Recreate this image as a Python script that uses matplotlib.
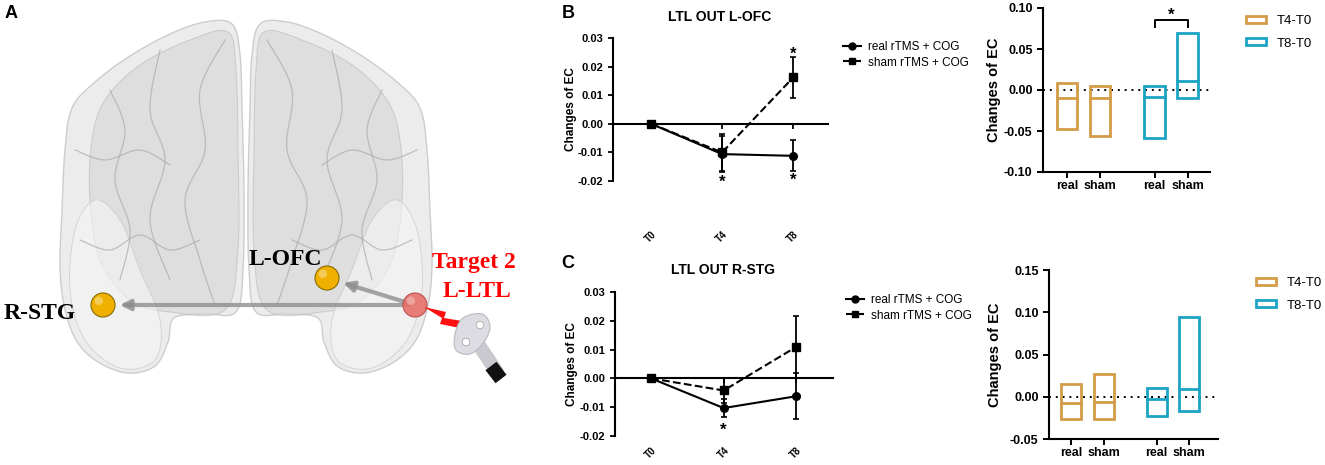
"""Figure: LTL outflow EC changes (panels A-C)."""

import numpy as np
import matplotlib
matplotlib.use("Agg")
import matplotlib.pyplot as plt
from matplotlib.lines import Line2D
from matplotlib.patches import Patch, Polygon, Circle, FancyArrowPatch
from matplotlib.transforms import offset_copy

# --- data ---
TIMEPOINTS = ["T0", "T4", "T8"]
GROUPS = ["real rTMS + COG", "sham rTMS + COG"]

# panel B, LTL OUT L-OFC (mean, sem)
B_REAL = [0.0, -0.0106, -0.0112]
B_REAL_ERR = [0.0, 0.0062, 0.0054]
B_SHAM = [0.0, -0.0100, 0.0162]
B_SHAM_ERR = [0.0, 0.0064, 0.0072]

# panel C, LTL OUT R-STG
C_REAL = [0.0, -0.0103, -0.0062]
C_REAL_ERR = [0.0, 0.0030, 0.0080]
C_SHAM = [0.0, -0.0042, 0.0109]
C_SHAM_ERR = [0.0, 0.0043, 0.0106]

# floating bars: (min, max, mean) for real/sham at T4-T0 then T8-T0
BAR_LABELS = ["real", "sham", "real", "sham"]
PERIODS = ["T4-T0", "T8-T0"]
B_BAR_MIN = [-0.047, -0.056, -0.058, -0.010]
B_BAR_MAX = [0.008, 0.005, 0.005, 0.069]
B_BAR_MEAN = [-0.010, -0.010, -0.008, 0.011]
C_BAR_MIN = [-0.0268, -0.0268, -0.0224, -0.0169]
C_BAR_MAX = [0.0146, 0.0268, 0.0098, 0.0945]
C_BAR_MEAN = [-0.0075, -0.0067, -0.0031, 0.0090]

# --- style ---
W, H = 1325, 465
ORANGE = "#D39C48"
TEAL = "#1BA3C4"
SANS = "Liberation Sans"
SERIF = "Liberation Serif"
BAR_POS = [0.0, 1.0, 2.65, 3.65]

plt.rcParams["font.family"] = SANS
plt.rcParams["axes.linewidth"] = 1.5


def px_axes(fig, left, top, right, bottom):
    return fig.add_axes([left / W, 1 - bottom / H, (right - left) / W, (bottom - top) / H])


def catmull(P, idx, n):
    out = []
    for i in idx:
        p0, p1, p2, p3 = P[i - 1], P[i], P[i + 1], P[i + 2]
        for t in np.linspace(0, 1, n, endpoint=False):
            out.append(0.5 * (2 * p1 + (-p0 + p2) * t
                              + (2 * p0 - 5 * p1 + 4 * p2 - p3) * t ** 2
                              + (-p0 + 3 * p1 - 3 * p2 + p3) * t ** 3))
    return out


def smooth_closed(pts, n=14):
    pts = np.asarray(pts, dtype=float)
    P = np.vstack([pts[-1], pts, pts[0], pts[1]])
    return np.array(catmull(P, range(1, len(pts) + 1), n))


def smooth_open(pts, n=14):
    pts = np.asarray(pts, dtype=float)
    P = np.vstack([pts[0], pts, pts[-1]])
    out = catmull(P, range(1, len(pts)), n)
    out.append(pts[-1])
    return np.array(out)


def mirror(pts, axis_x=492):
    return [(axis_x - x, y) for x, y in pts]


LEFT_HEMI = [(232, 24), (205, 22), (170, 34), (130, 56), (95, 82), (72, 108),
             (65, 150), (62, 210), (60, 265), (64, 305), (76, 340), (98, 362),
             (128, 373), (155, 366), (168, 342), (174, 318), (205, 314),
             (236, 312), (243, 270), (244, 190), (242, 110), (240, 55)]
LEFT_FRONTAL = [(228, 32), (190, 40), (140, 65), (105, 100), (92, 140),
                (90, 200), (100, 260), (130, 300), (170, 312), (225, 310),
                (238, 250), (238, 150), (236, 70)]
LEFT_TEMPORAL = [(95, 200), (75, 230), (70, 290), (85, 340), (120, 368),
                 (155, 360), (160, 320), (140, 270), (120, 220)]
LEFT_FOLDS = [
    [(225, 40), (200, 90), (205, 150), (185, 200), (200, 260), (215, 305)],
    [(160, 50), (150, 110), (165, 160), (150, 220), (170, 280)],
    [(110, 90), (125, 130), (115, 180), (130, 230), (120, 280)],
    [(75, 150), (105, 160), (140, 150), (170, 165)],
    [(80, 240), (110, 250), (140, 235), (170, 250), (200, 240)],
]


def draw_brain(ax):
    for side in (lambda p: p, mirror):
        shape = smooth_closed(side(LEFT_HEMI))
        ax.add_patch(Polygon(shape, closed=True, facecolor="#ececec",
                             edgecolor="#cdcdcd", lw=1.0, zorder=1))
        front = smooth_closed(side(LEFT_FRONTAL))
        ax.add_patch(Polygon(front, closed=True, facecolor="#d2d2d2",
                             edgecolor="#b4b4b4", lw=0.8, alpha=0.5, zorder=2))
        temp = smooth_closed(side(LEFT_TEMPORAL))
        ax.add_patch(Polygon(temp, closed=True, facecolor="#f6f6f6",
                             edgecolor="#c4c4c4", lw=0.7, alpha=0.6, zorder=2))
        for fold in LEFT_FOLDS:
            c = smooth_open(side(fold))
            ax.plot(c[:, 0], c[:, 1], color="#ababab", lw=0.9, alpha=0.7, zorder=3)


def sphere(ax, x, y, r, color, edge, alpha=1.0):
    ax.add_patch(Circle((x, y), r, facecolor=color, edgecolor=edge, lw=0.8,
                        alpha=alpha, zorder=8))
    ax.add_patch(Circle((x - r * 0.35, y - r * 0.35), r * 0.35, facecolor="white",
                        edgecolor="none", alpha=0.35 * alpha, zorder=9))


def panel_a(fig):
    ax = px_axes(fig, 0, 0, 520, 465)
    ax.set_xlim(0, 520)
    ax.set_ylim(465, 0)
    ax.axis("off")
    draw_brain(ax)

    target = (415, 305)
    stg = (103, 305)
    ofc = (327, 278)
    for dest in (stg, ofc):
        ax.add_patch(FancyArrowPatch(target, dest, arrowstyle="-|>,head_length=6,head_width=3",
                                     color="#8f8f8f", lw=3.0, alpha=0.8,
                                     shrinkA=4, shrinkB=12, zorder=6))
    sphere(ax, *stg, 12, "#F0B000", "#8a6a00")
    sphere(ax, *ofc, 12, "#F0B000", "#8a6a00")
    sphere(ax, *target, 12, "#E8716B", "#b54a44", alpha=0.9)

    bolt = [(424, 307), (446, 312), (444, 318), (474, 323), (463, 339),
            (460, 328), (440, 324), (442, 318)]
    ax.add_patch(Polygon(bolt, closed=True, facecolor="#ff1010", edgecolor="none", zorder=10))

    # coil
    ax.plot([474, 497], [338, 372], color="#c9c9cf", lw=10, solid_capstyle="round", zorder=9)
    ax.plot([491, 501], [366, 379], color="#111111", lw=10, solid_capstyle="butt", zorder=10)
    head = smooth_closed([(463, 318), (482, 314), (490, 326), (484, 342), (470, 354),
                          (456, 350), (455, 334)])
    ax.add_patch(Polygon(head, closed=True, facecolor="#dcdce2", edgecolor="#b9b9c0",
                         lw=0.8, zorder=10))
    ax.add_patch(Circle((480, 325), 3.8, facecolor="white", edgecolor="#aaa", lw=0.6, zorder=11))
    ax.add_patch(Circle((466, 342), 3.8, facecolor="white", edgecolor="#aaa", lw=0.6, zorder=11))

    ax.text(4, 313, "R-STG", family=SERIF, weight="bold", fontsize=17,
            ha="left", va="center", zorder=12)
    ax.text(285, 259, "L-OFC", family=SERIF, weight="bold", fontsize=17,
            ha="center", va="center", zorder=12)
    ax.text(432, 262, "Target 2", family=SERIF, weight="bold", fontsize=17,
            color="#ff0000", ha="left", va="center", zorder=12)
    ax.text(477, 291, "L-LTL", family=SERIF, weight="bold", fontsize=17,
            color="#ff0000", ha="center", va="center", zorder=12)
    fig.text(5 / W, 1 - 13 / H, "A", fontsize=13, weight="bold", va="center")


def line_panel(fig, rect, real, real_err, sham, sham_err, xlim, label_y,
               stars, title, title_xy, letter_xy, legend_xy, ylabel_x):
    ax = px_axes(fig, *rect)
    x = np.arange(len(TIMEPOINTS))
    ax.errorbar(x, real, yerr=real_err, color="black", lw=1.5, marker="o",
                markersize=5.5, capsize=2, elinewidth=1.3, capthick=1.2, zorder=4)
    ax.errorbar(x, sham, yerr=sham_err, color="black", lw=1.5, ls="--", marker="s",
                markersize=5.5, capsize=2, elinewidth=1.3, capthick=1.2, zorder=4)
    ax.set_xlim(*xlim)
    ax.set_ylim(-0.02, 0.03)
    ax.set_yticks([-0.02, -0.01, 0.0, 0.01, 0.02, 0.03])
    ax.set_yticklabels([f"{v:.2f}" for v in ax.get_yticks()])
    for s in ("top", "right"):
        ax.spines[s].set_visible(False)
    ax.spines["bottom"].set_position(("data", 0))
    ax.spines["bottom"].set_bounds(xlim[0], xlim[1])
    ax.set_xticks(x)
    ax.set_xticklabels([])
    ax.tick_params(axis="both", direction="out", length=3.5, width=1.3, labelsize=8)
    for lab in ax.get_yticklabels():
        lab.set_fontweight("bold")
    for i, t in enumerate(TIMEPOINTS):
        ax.text(i, label_y, t, rotation=45, ha="center", va="center", fontsize=7,
                weight="bold", clip_on=False)
    star_tr = offset_copy(ax.transData, fig=fig, y=-3, units="dots")
    for sx, sy in stars:
        ax.text(sx, sy, "*", ha="center", va="center", fontsize=12, weight="bold",
                transform=star_tr)
    ax.set_ylabel("Changes of EC", fontsize=8.5, weight="bold")
    ax.yaxis.set_label_coords(ylabel_x, 0.5)

    fig.text(title_xy[0] / W, 1 - title_xy[1] / H, title, fontsize=10, weight="bold",
             ha="center", va="center")
    fig.text(letter_xy[0] / W, 1 - letter_xy[1] / H, letter_xy[2], fontsize=13,
             weight="bold", ha="center", va="center")
    handles = [Line2D([], [], color="black", lw=1.5, marker="o", markersize=5),
               Line2D([], [], color="black", lw=1.5, ls="--", marker="s", markersize=5)]
    ax.legend(handles, GROUPS, loc="upper left", frameon=False, fontsize=8.5,
              bbox_to_anchor=(legend_xy[0] / W, 1 - legend_xy[1] / H),
              bbox_transform=fig.transFigure, borderpad=0, borderaxespad=0,
              handlelength=1.5, handletextpad=0.6, labelspacing=0.3)
    return ax


def bar_panel(fig, rect, lo, hi, mean, ylim, yticks, xlim, ylabel_x, legend_xy):
    ax = px_axes(fig, *rect)
    colors = [ORANGE, ORANGE, TEAL, TEAL]
    width = 0.62
    heights = [h - l for h, l in zip(hi, lo)]
    ax.bar(BAR_POS, heights, bottom=lo, width=width, fill=False,
           edgecolor=colors, lw=2.0, zorder=3)
    for p, m, c in zip(BAR_POS, mean, colors):
        ax.plot([p - width / 2, p + width / 2], [m, m], color=c, lw=2.0, zorder=3)
    ax.axhline(0, color="black", ls=(0, (1, 2.5)), lw=1.4, zorder=2)
    ax.set_xlim(*xlim)
    ax.set_ylim(*ylim)
    ax.set_yticks(yticks)
    ax.set_yticklabels([f"{v:.2f}" for v in yticks])
    ax.set_xticks(BAR_POS)
    ax.set_xticklabels(BAR_LABELS)
    for s in ("top", "right"):
        ax.spines[s].set_visible(False)
    ax.tick_params(axis="both", direction="out", length=4, width=1.4, labelsize=9)
    ax.tick_params(axis="x", pad=2)
    for lab in ax.get_yticklabels() + ax.get_xticklabels():
        lab.set_fontweight("bold")
    ax.set_ylabel("Changes of EC", fontsize=10.5, weight="bold")
    ax.yaxis.set_label_coords(ylabel_x, 0.5)
    handles = [Patch(facecolor="none", edgecolor=ORANGE, lw=2),
               Patch(facecolor="none", edgecolor=TEAL, lw=2)]
    ax.legend(handles, PERIODS, loc="upper left", frameon=False, fontsize=9.5,
              bbox_to_anchor=(legend_xy[0] / W, 1 - legend_xy[1] / H),
              bbox_transform=fig.transFigure, borderpad=0, borderaxespad=0,
              handlelength=1.5, handleheight=0.45, handletextpad=0.8, labelspacing=0.8)
    return ax


def main():
    fig = plt.figure(figsize=(W / 100, H / 100), dpi=100)
    fig.patch.set_facecolor("white")
    panel_a(fig)

    line_panel(fig, (613, 38, 828, 181), B_REAL, B_REAL_ERR, B_SHAM, B_SHAM_ERR,
               (-0.535, 2.49), -0.0396,
               [(1, -0.0195), (2, -0.0188), (2, 0.0255)],
               "LTL OUT L-OFC", (720, 17), (568, 14, "B"), (843, 41), -0.168)
    line_panel(fig, (615, 292, 833, 436), C_REAL, C_REAL_ERR, C_SHAM, C_SHAM_ERR,
               (-0.5, 2.51), -0.026,
               [(1, -0.0168)],
               "LTL OUT R-STG", (723, 270), (568, 263, "C"), (846, 294), -0.172)

    axb = bar_panel(fig, (1043, 8, 1210, 172), B_BAR_MIN, B_BAR_MAX, B_BAR_MEAN,
                    (-0.10, 0.10), [-0.10, -0.05, 0.0, 0.05, 0.10], (-0.73, 4.33),
                    -0.25, (1246, 15))
    # significance bracket between real and sham at T8-T0
    axb.plot([BAR_POS[2], BAR_POS[2], BAR_POS[3], BAR_POS[3]],
             [0.077, 0.085, 0.085, 0.077], color="black", lw=1.4, clip_on=False)
    axb.text((BAR_POS[2] + BAR_POS[3]) / 2, 0.091, "*", ha="center", va="center",
             fontsize=12, weight="bold", clip_on=False)

    bar_panel(fig, (1049, 270, 1218, 439), C_BAR_MIN, C_BAR_MAX, C_BAR_MEAN,
              (-0.05, 0.15), [-0.05, 0.0, 0.05, 0.10, 0.15], (-0.69, 4.55),
              -0.28, (1256, 277))

    fig.savefig("out.png", dpi=100, facecolor="white")


if __name__ == "__main__":
    main()
